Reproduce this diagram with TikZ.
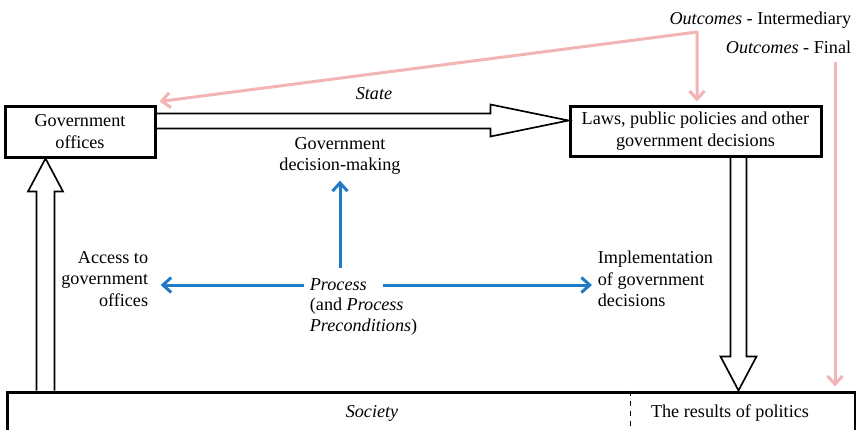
\documentclass[tikz,border=0pt]{standalone}
\usepackage{fontspec}
\setmainfont{Liberation Serif}
\usetikzlibrary{positioning}
\usetikzlibrary{calc}
\usetikzlibrary{arrows.meta}
\definecolor{pinkline}{RGB}{242,180,180}
\definecolor{blueline}{RGB}{33,122,198}

\begin{document}
\begin{tikzpicture}[x=0.6pt, y=-0.6pt, font=\fontsize{10.9}{12.9}\selectfont,
    box/.style={draw, line width=1.8pt, align=center},
    blockarrow/.style={draw, line width=1pt, line join=miter},
    bluearrow/.style={blueline, line width=1.8pt, -{Straight Barb[length=5pt, width=9pt]}},
    pinkarrow/.style={pinkline, line width=1.8pt, line join=round, -{Straight Barb[length=5pt, width=9pt]}}]
    \useasboundingbox (0,0) rectangle (856,430);
    %Government offices
    \node[box, minimum width=90pt, minimum height=30.6pt] at (80,131.5) (offices) {Government\\offices};
    %Laws
    \node[box, minimum width=150.6pt, minimum height=30pt] at (695.5,131) (laws) {Laws, public policies and other\\government decisions};
    %Society
    \node[box, minimum width=508.8pt, minimum height=40.8pt] at (431,426) (society) {};
    \node at (372,413) (soclabel) {\textit{Society}};
    \node at (730,413) (results) {The results of politics};
    \draw[dashed, line width=0.9pt] ($(society.north west)+(625,0)$) -- ($(society.south west)+(625,0)$);
    %State
    \node at (374,94) (state) {\textit{State}};
    %Decision-making
    \node[align=center] at (340,156) (decision) {Government\\decision-making};
    %Access
    \node[anchor=east, align=right] at (154,279) (access) {Access to\\government\\offices};
    %Implementation
    \node[anchor=west, align=left] at (592,279) (implement) {Implementation\\of government\\decisions};
    %Process
    \node[anchor=west] at (304,285) (process) {\textit{Process}};
    \node[anchor=west, align=left] at (304,316.5) (precond) {(and \textit{Process}\\\textit{Preconditions})};
    %Outcomes
    \node[anchor=east] at (857,20) (inter) {\textit{Outcomes} - Intermediary};
    \node[anchor=east] at (857,47) (final) {\textit{Outcomes} - Final};
    \coordinate (split) at (697,32);
    \coordinate (finaltop) at (835,62);





    %Offices zu Laws
    \draw[blockarrow] ($(offices.north east)+(0,9)$) -- ($(laws.north west)+(-78,9)$) -- ($(laws.north west)+(-78,0)$) -- ($(laws.north west)+(0,16)$) -- ($(laws.north west)+(-78,32)$) -- ($(laws.north west)+(-78,24)$) -- ($(offices.north east)+(0,24)$);
    %Society zu Offices
    \coordinate (uptip) at ($(offices.south west)+(42,0)$);
    \draw[blockarrow] ({$(uptip)+(-9,0)$} |- society.north) -- ($(uptip)+(-9,33)$) -- ($(uptip)+(-17.5,33)$) -- (uptip) -- ($(uptip)+(17.5,33)$) -- ($(uptip)+(9,33)$) -- ({$(uptip)+(9,0)$} |- society.north);
    %Laws zu Society
    \coordinate (downtip) at ({$(laws.south west)+(170,0)$} |- society.north);
    \draw[blockarrow] ({$(downtip)+(-8,0)$} |- laws.south) -- ($(downtip)+(-8,-34)$) -- ($(downtip)+(-18,-34)$) -- (downtip) -- ($(downtip)+(18,-34)$) -- ($(downtip)+(8,-34)$) -- ({$(downtip)+(8,0)$} |- laws.south);
    %Outcomes - Intermediary
    \draw[pinkarrow, {Straight Barb[length=5pt, width=9pt]}-{Straight Barb[length=5pt, width=9pt]}] ($(offices.north east)+(3,-3)$) -- (split) -- ($(split |- laws.north)+(0,-3)$);
    %Outcomes - Final
    \draw[pinkarrow] (finaltop) -- ($(finaltop |- society.north)+(0,-4)$);
    %Process zu Decision-making
    \draw[bluearrow, shorten <=3pt] (process.north -| decision.south) -- (decision.south);
    %Process zu Access
    \draw[bluearrow, shorten >=4pt] (process.west) -- (process.west -| access.east);
    %Process zu Implementation
    \draw[bluearrow, shorten <=6pt] (process.east) -- (process.east -| implement.west);

\end{tikzpicture}
\end{document}
